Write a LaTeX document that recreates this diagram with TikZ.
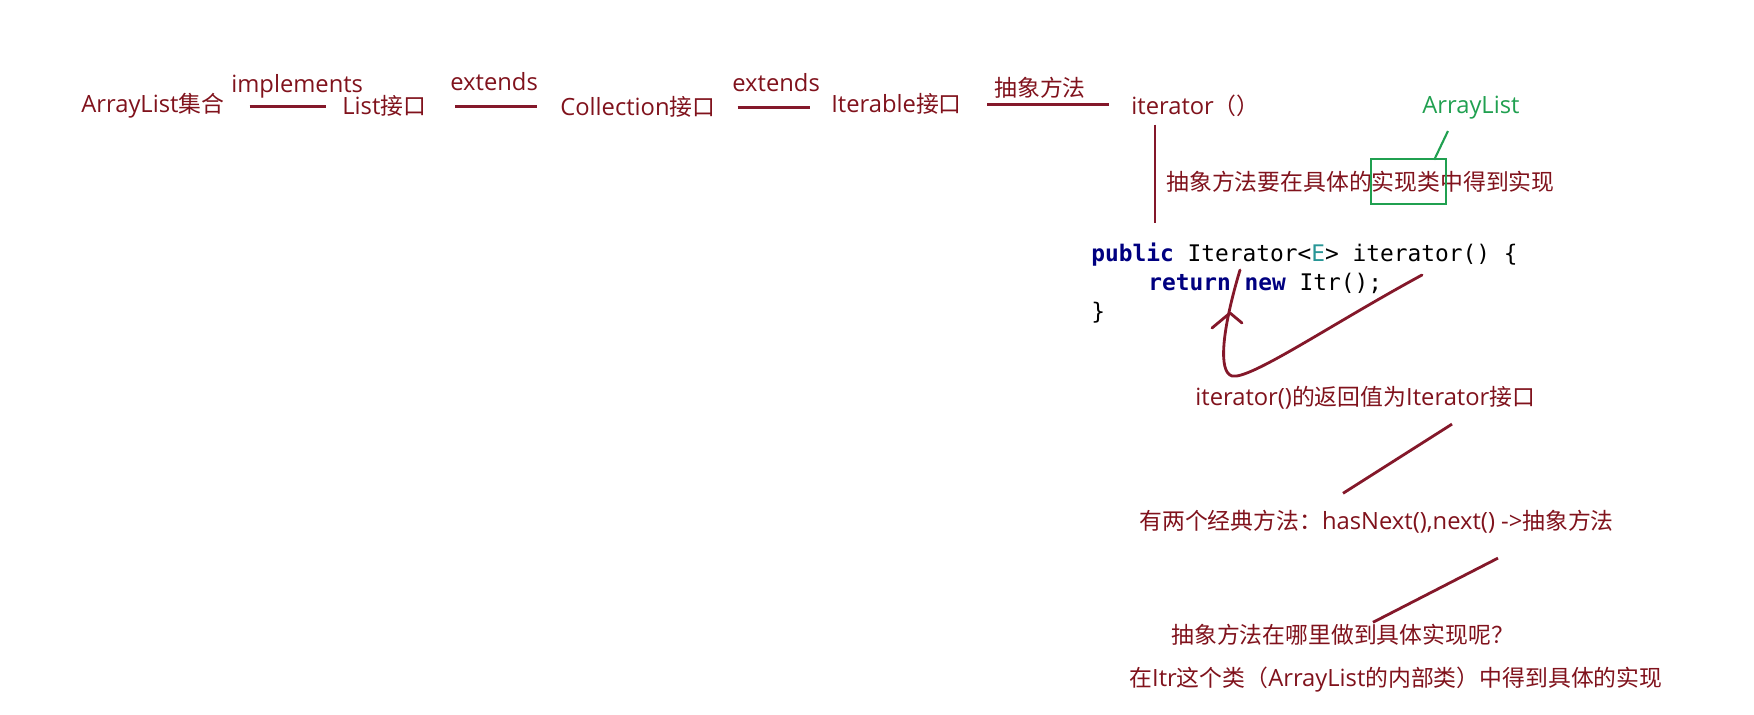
\documentclass[tikz,border=0pt]{standalone}
\usepackage{fontspec}
\setmainfont{Open Sans}[Scale=1.04]
\newfontfamily\zhfont{Noto Sans CJK SC}
\newfontfamily\monofont{DejaVu Sans Mono}
\usetikzlibrary{positioning}
\definecolor{wine}{RGB}{128,18,28}
\definecolor{pen}{RGB}{132,24,42}
\definecolor{grass}{RGB}{32,160,80}
\definecolor{kwblue}{RGB}{0,0,128}
\definecolor{tparam}{RGB}{40,150,150}
\newcommand{\zh}[1]{{\zhfont #1}}
\newcommand{\kw}[1]{\textbf{\textcolor{kwblue}{#1}}}
\tikzset{
  note/.style={text=#1,font=\fontsize{13}{15}\selectfont,inner sep=0pt,anchor=base west},
  note/.default=wine,
  codeline/.style={font=\monofont\fontsize{13}{16}\selectfont,inner sep=0pt,anchor=base west},
  link/.style={draw=pen,line width=1.6pt},
  hint/.style={draw=grass,line width=1.2pt},
  implbox/.style={draw=grass,line width=1.4pt,minimum width=1.5cm,minimum height=0.9cm,inner sep=0pt},
}

\begin{document}
\begin{tikzpicture}[x=0.02cm,y=-0.02cm]
  \useasboundingbox (0,0) rectangle (1754,715);
  % inheritance chain
  \node[note] (arr)  at (81,113)  {ArrayList\zh{集合}};
  \node[note] (list) at (342,115) {List\zh{接口}};
  \node[note] (coll) at (560,116) {Collection\zh{接口}};
  \node[note] (iter) at (831,113) {Iterable\zh{接口}};
  \node[note] (itm)  at (1131,115) {iterator\zh{（）}};
  \node[note] (impl) at (231,93)  {implements};
  \node[note] (ext1) at (450,91)  {extends};
  \node[note] (ext2) at (732,92)  {extends};
  \node[note] (abs)  at (994,97)  {\zh{抽象方法}};
  \draw[link,shorten <=0.5cm,shorten >=0.32cm] (arr.east) -- (arr.east -| list.west);
  \draw[link,shorten <=0.58cm,shorten >=0.46cm] (list.east) -- (list.east -| coll.west);
  \draw[link,shorten <=0.44cm,shorten >=0.42cm] (coll.east) -- (coll.east -| iter.west);
  \draw[link,shorten <=0.5cm,shorten >=0.44cm] (iter.east) -- (iter.east -| itm.west);

  % implementing class
  \node[note] (need) at (1166,191) {\zh{抽象方法要在具体的实现类中得到实现}};
  \node[implbox] (cls) at (1408.5,181.5) {};
  \node[note=grass] (al) at (1422,114) {ArrayList};
  \draw[hint] ([shift={(-23,11)}]al.south) -- ([shift={(-13,2)}]cls.north east);

  % code
  \node[codeline] (code1) at (1091,262) {\kw{public} Iterator<\textcolor{tparam}{E}> iterator() \{};
  \node[codeline] (code2) at (1148,291) {\kw{return} \kw{new} Itr();};
  \node[codeline] (code3) at (1091,320) {\}};
  \draw[link] ([shift={(24,7)}]itm.south west) -- ([shift={(64,-20)}]code1.north west);

  \coordinate (turn) at (1422,275);
  \coordinate (back) at (1240,270);
  \coordinate (tip)  at (1230,313);
  \draw[link,line cap=round] (turn) .. controls (1330,325) and (1250,380) .. (1232,376)
    .. controls (1218,372) and (1222,330) .. (back);
  \draw[link,line cap=round,line join=round] ([shift={(-18,15)}]tip) -- (tip) -- ([shift={(12,10)}]tip);

  % explanations
  \node[note] (ret)   at (1195,406) {iterator()\zh{的返回值为}Iterator\zh{接口}};
  \node[note] (two)   at (1139,530) {\zh{有两个经典方法：}hasNext(),next() ->\zh{抽象方法}};
  \node[note] (where) at (1171,643) {\zh{抽象方法在哪里做到具体实现呢？}};
  \node[note] (itr)   at (1129,686) {\zh{在}Itr\zh{这个类（}ArrayList\zh{的内部类）中得到具体的实现}};
  \draw[link] ([shift={(257,14)}]ret.south west) -- ([shift={(204,-17)}]two.north west);
  \draw[link] ([shift={(359,24)}]two.south west) -- ([shift={(202,-1)}]where.north west);
\end{tikzpicture}
\end{document}
